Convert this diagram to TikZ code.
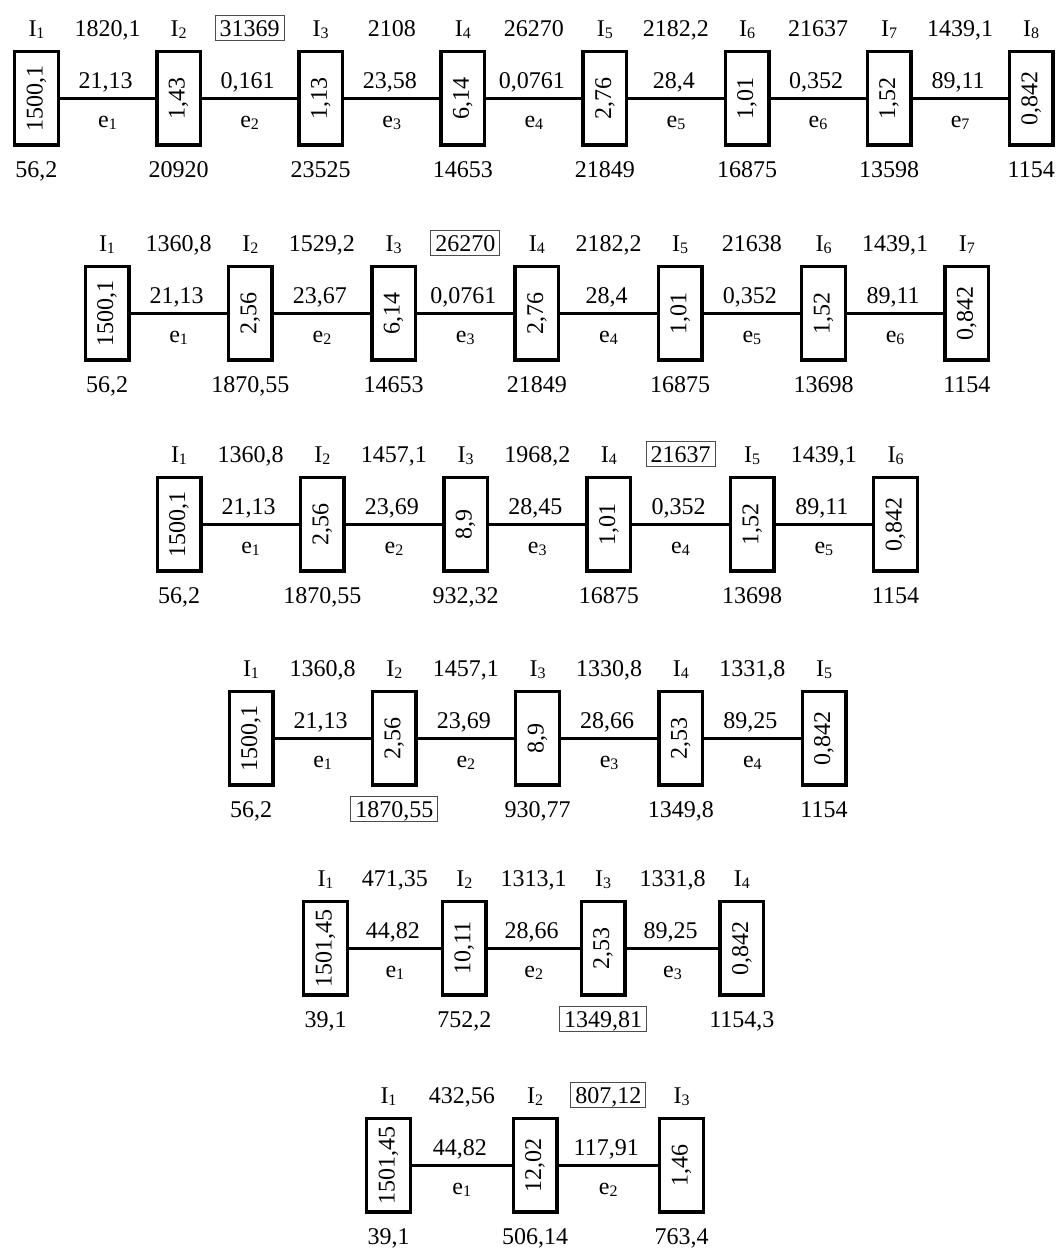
\documentclass[tikz,border=0pt]{standalone}
\usepackage{fontspec}
\setmainfont{Liberation Serif}
\usepackage{graphicx}
\colorlet{hl}{black!70}
\newcommand\sbsc[1]{\raisebox{-2.8pt}{\fontsize{16}{16}\selectfont #1}}
\tikzset{
  blk/.style={draw, line width=3.4pt, minimum width=43.6pt, minimum height=93.6pt,
    inner sep=0pt, font=\fontsize{24}{24}\selectfont},
  conn/.style={line width=3pt},
  lbl/.style={anchor=base, inner sep=0pt, font=\fontsize{24}{24}\selectfont},
  frm/.style={lbl, inner xsep=4.5pt, inner ysep=1.5pt, text height=19pt, text depth=3pt, line width=0.9pt},
}
% #1 id, #2 x of first box, #3 spacing, #4 y of line, #5 boxes, #6 links
\newcommand\chainrow[6]{%
  \foreach \bv/\bt/\fr [count=\k] in {#5} {
    \node[blk] (#1b\k) at ({#2+(\k-1)*#3},#4) {\rotatebox{90}{\bv}};
    \node[lbl] (#1i\k) at ({#2+(\k-1)*#3},#4-62) {I\sbsc{\k}};
    \node[frm, draw=\fr] (#1d\k) at ({#2+(\k-1)*#3},#4+79) {\bt};
  }
  \foreach \tp/\md/\fr [count=\k] in {#6} {
    \pgfmathtruncatemacro\nk{\k+1}
    \draw[conn] (#1b\k) -- (#1b\nk);
    \node[frm, draw=\fr] (#1t\k) at ({#2+(\k-0.5)*#3},#4-62) {\tp};
    \node[lbl] (#1m\k) at ({#2+(\k-0.5)*#3-2},#4-10) {\md};
    \node[lbl] (#1e\k) at ({#2+(\k-0.5)*#3},#4+29) {e\sbsc{\k}};
  }
}
\begin{document}
\begin{tikzpicture}[x=1pt,y=-1pt]
\useasboundingbox (0,0) rectangle (1057,1248);
\chainrow{A}{36.5}{142.1}{98}%
  {{1500,1}/{56,2}/none, {1,43}/{20920}/none, {1,13}/{23525}/none, {6,14}/{14653}/none,
   {2,76}/{21849}/none, {1,01}/{16875}/none, {1,52}/{13598}/none, {0,842}/{1154}/none}%
  {{1820,1}/{21,13}/none, {31369}/{0,161}/hl, {2108}/{23,58}/none, {26270}/{0,0761}/none,
   {2182,2}/{28,4}/none, {21637}/{0,352}/none, {1439,1}/{89,11}/none}
\chainrow{B}{107}{143.3}{313}%
  {{1500,1}/{56,2}/none, {2,56}/{1870,55}/none, {6,14}/{14653}/none, {2,76}/{21849}/none,
   {1,01}/{16875}/none, {1,52}/{13698}/none, {0,842}/{1154}/none}%
  {{1360,8}/{21,13}/none, {1529,2}/{23,67}/none, {26270}/{0,0761}/hl, {2182,2}/{28,4}/none,
   {21638}/{0,352}/none, {1439,1}/{89,11}/none}
\chainrow{C}{179}{143.3}{524}%
  {{1500,1}/{56,2}/none, {2,56}/{1870,55}/none, {8,9}/{932,32}/none, {1,01}/{16875}/none,
   {1,52}/{13698}/none, {0,842}/{1154}/none}%
  {{1360,8}/{21,13}/none, {1457,1}/{23,69}/none, {1968,2}/{28,45}/none, {21637}/{0,352}/hl,
   {1439,1}/{89,11}/none}
\chainrow{D}{251}{143.25}{738}%
  {{1500,1}/{56,2}/none, {2,56}/{1870,55}/hl, {8,9}/{930,77}/none, {2,53}/{1349,8}/none,
   {0,842}/{1154}/none}%
  {{1360,8}/{21,13}/none, {1457,1}/{23,69}/none, {1330,8}/{28,66}/none, {1331,8}/{89,25}/none}
\chainrow{E}{325.5}{138.8}{948}%
  {{1501,45}/{39,1}/none, {10,11}/{752,2}/none, {2,53}/{1349,81}/hl, {0,842}/{1154,3}/none}%
  {{471,35}/{44,82}/none, {1313,1}/{28,66}/none, {1331,8}/{89,25}/none}
\chainrow{F}{388.5}{146.5}{1165}%
  {{1501,45}/{39,1}/none, {12,02}/{506,14}/none, {1,46}/{763,4}/none}%
  {{432,56}/{44,82}/none, {807,12}/{117,91}/hl}
\end{tikzpicture}
\end{document}
